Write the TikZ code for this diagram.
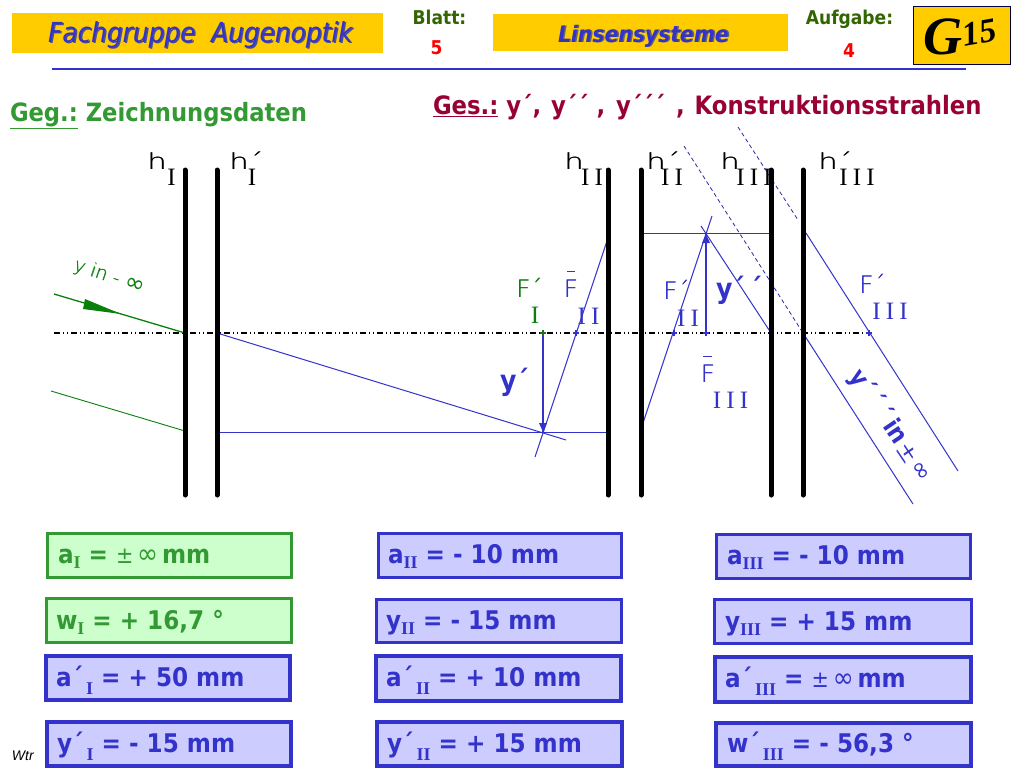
\documentclass[tikz,border=0pt]{standalone}
\usepackage{fontspec}
\setmainfont{DejaVu Sans}
\newfontfamily\tahf{DejaVu Sans Condensed}[BoldFont={DejaVu Sans Condensed Bold},ItalicFont={DejaVu Sans Condensed Oblique},BoldItalicFont={DejaVu Sans Condensed Bold Oblique}]
\newfontfamily\cadf{DejaVu Sans ExtraLight}
\newfontfamily\plainf{DejaVu Sans}
\newfontfamily\serf{Liberation Serif}
\newfontfamily\arif{Liberation Sans}
\definecolor{gold}{HTML}{FFCC00}
\definecolor{myblue}{HTML}{3333CC}
\definecolor{mygreen}{HTML}{339933}
\definecolor{raygreen}{HTML}{0B7F0B}
\definecolor{palegreen}{HTML}{CCFFCC}
\definecolor{paleblue}{HTML}{CCCCFF}
\definecolor{wine}{HTML}{990033}
\definecolor{leaf}{HTML}{336600}
\newcommand\fs[1]{\fontsize{#1}{#1}\selectfont}
\newcommand\subr[1]{\raisebox{-5pt}{\serf\bfseries\fs{18}#1}}
\newcommand\subp[1]{\raisebox{-8pt}{\serf\bfseries\fs{18}\,#1}}
\newcommand\pmi{{\mdseries\fs{23}±\,{\fs{28}∞}\,}}
\newcommand\romgap{\hspace{5.2pt}}
\newcommand\romi{{\serf\fs{25}I}}
\newcommand\romii{{\serf\fs{25}I\romgap I}}
\newcommand\romiii{{\serf\fs{25}I\romgap I\romgap I}}
\newcommand\heavy[1]{\rlap{#1}\hspace{0.4pt}#1}
\newcommand\cadh[1]{\scalebox{1.4}[1]{\cadf\fs{22}\heavy{#1}}}
\newcommand\cadF[1]{\scalebox{1.05}[1]{\cadf\fs{24}\heavy{#1}}}
\newcommand\plusat[1]{(#1)+(-3,0)--+(3,0) (#1)+(0,-3)--+(0,3)}
\tikzset{
  tx/.style={inner sep=0pt,outer sep=0pt,anchor=base west},
  txc/.style={inner sep=0pt,outer sep=0pt,anchor=base},
  lens/.style={line width=5pt,line cap=round,black},
  axisline/.style={line width=1.3pt,black,dash pattern=on 6pt off 3pt on 1pt off 3pt on 1pt off 3pt},
  ray/.style={line width=1pt,myblue},
  dashray/.style={line width=0.8pt,myblue!85!black,dash pattern=on 4pt off 3pt},
  greenbox/.style={draw=mygreen,fill=palegreen,line width=3pt},
  blueboxa/.style={draw=myblue,fill=paleblue,line width=3pt},
  blueboxb/.style={draw=myblue,fill=paleblue,line width=4pt},
  val/.style={tx,font=\tahf\bfseries\fs{25.7}},
}
\begin{document}
\begin{tikzpicture}[x=1pt,y=-1pt]
\useasboundingbox (0,0) rectangle (1024,768);
\fill[white] (0,0) rectangle (1024,768);
% header
\fill[gold] (12,13) rectangle (383,53);
\fill[gold] (493,14) rectangle (788,51);
\draw[fill=gold,draw=black!70!blue,line width=1pt] (913.5,6.5) rectangle (1010,64);
\draw[myblue,line width=1.2pt] (52,69) -- (966,69);
\node[tx,text=black!60!blue!70] (fa0) at (49.5,43.5) {\tahf\itshape\fs{27.6}Fachgruppe\ \ Augenoptik};
\node[tx,text=myblue] (fa) at (48,42) {\tahf\itshape\fs{27.6}Fachgruppe\ \ Augenoptik};
\node[tx,text=black!60] (li0) at (559.5,43) {\tahf\bfseries\itshape\fs{22.6}Linsensysteme};
\node[tx,text=myblue] (li) at (558,42) {\tahf\bfseries\itshape\fs{22.6}Linsensysteme};
\node[txc,text=leaf] (bl) at (439.5,25) {\tahf\bfseries\fs{19}Blatt:};
\node[txc,text=red] (bn) at (436.5,55) {\tahf\bfseries\fs{19}5};
\node[txc,text=leaf] (au) at (849.5,25) {\tahf\bfseries\fs{19}Aufgabe:};
\node[txc,text=red] (an) at (849,57) {\tahf\bfseries\fs{19}4};
\node[tx] (gg) at (923,55) {\serf\bfseries\itshape\fs{54}G};
\node[txc,rotate=10] (gn) at (981,44) {\serf\bfseries\itshape\fs{34}15};
% headings
\node[tx,text=mygreen] (geg) at (10,121) {\tahf\bfseries\fs{25.2}\underline{Geg.:} Zeichnungsdaten};
\node[tx,text=wine] (ges) at (433,114) {\tahf\bfseries\fs{25.3}\underline{Ges.:} y´, \hspace{2pt}y´´ , \hspace{3pt}y´´´\hspace{3pt} , \hspace{2pt}Konstruktionsstrahlen};
% coordinates
\coordinate (l1t) at (185,170); \coordinate (l1b) at (185,495);
\coordinate (l2t) at (217,170); \coordinate (l2b) at (217,495);
\coordinate (l3t) at (608,170); \coordinate (l3b) at (608,495);
\coordinate (l4t) at (641,170); \coordinate (l4b) at (641,495);
\coordinate (l5t) at (771,170); \coordinate (l5b) at (771,495);
\coordinate (l6t) at (803,170); \coordinate (l6b) at (803,495);
\coordinate (axa) at (54,333); \coordinate (axb) at (870,333);
\coordinate (g1a) at (54,294); \coordinate (g1b) at (185,333);
\coordinate (g2a) at (51,391); \coordinate (g2b) at (185,431);
\coordinate (r1a) at (217,333); \coordinate (r1b) at (566,440);
\coordinate (r2a) at (217,432.5); \coordinate (r2b) at (608,432.5);
\coordinate (r3a) at (535,457); \coordinate (r3b) at (609,235);
\coordinate (r4a) at (641,429); \coordinate (r4b) at (712,216);
\coordinate (r5a) at (641,233.5); \coordinate (r5b) at (772,233.5);
\coordinate (r6a) at (701,226); \coordinate (r6b) at (771,333);
\coordinate (d1a) at (684,146); \coordinate (d1b) at (803,333);
\coordinate (d2a) at (738,127); \coordinate (d2b) at (798,220);
\coordinate (r7a) at (803,333); \coordinate (r7b) at (913,504);
\coordinate (r8a) at (806,233); \coordinate (r8b) at (958,471);
\coordinate (y1a) at (543,333); \coordinate (y1b) at (543,432);
\coordinate (y2a) at (706,333); \coordinate (y2b) at (706,234);
\coordinate (f2) at (576,333); \coordinate (f3) at (674,333); \coordinate (f4) at (869,333);
% optical axis
\draw[axisline] (axa) -- (axb);
% rays
\draw[raygreen,line width=1.3pt] (g1a) -- (g1b);
\fill[raygreen] (121,314) -- (85,299) -- (83,309) -- cycle;
\draw[raygreen,line width=0.9pt] (g2a) -- (g2b);
\draw[ray] (r1a) -- (r1b);
\draw[ray] (r2a) -- (r2b);
\draw[ray] (r3a) -- (r3b);
\draw[ray] (r4a) -- (r4b);
\draw[ray] (r5a) -- (r5b);
\draw[ray] (r6a) -- (r6b);
\draw[ray] (r7a) -- (r7b);
\draw[ray] (r8a) -- (r8b);
\draw[dashray] (d1a) -- (d1b);
\draw[dashray] (d2a) -- (d2b);
% lenses
\draw[lens] (l1t) -- (l1b);
\draw[lens] (l2t) -- (l2b);
\draw[lens] (l3t) -- (l3b);
\draw[lens] (l4t) -- (l4b);
\draw[lens] (l5t) -- (l5b);
\draw[lens] (l6t) -- (l6b);
% image arrows
\draw[myblue,line width=1.2pt] (y1a) -- (y1b);
\fill[myblue] (y1b) -- ++(-4,-9) -- ++(8,0) -- cycle;
\draw[myblue,line width=1.2pt] (y2a) -- (y2b);
\fill[myblue] (y2b) -- ++(-4,9) -- ++(8,0) -- cycle;
\draw[mygreen!70!black,line width=1.2pt] \plusat{y1a};
\draw[myblue,line width=1.2pt] \plusat{f2} \plusat{f3} \plusat{y2a} \plusat{f4};
% principal plane labels
\node[tx] (h1) at (147,169) {\cadh{h}};
\node[txc] (h1s) at (171.5,185) {\romi};
\node[tx] (h2) at (229,169) {\cadh{h´}};
\node[txc] (h2s) at (252,185) {\romi};
\node[tx] (h3) at (564,169) {\cadh{h}};
\node[txc] (h3s) at (592,185) {\romii};
\node[tx] (h4) at (646,169) {\cadh{h´}};
\node[txc] (h4s) at (672,185) {\romii};
\node[tx] (h5) at (720,169) {\cadh{h}};
\node[txc] (h5s) at (754,185) {\romiii};
\node[tx] (h6) at (818,169) {\cadh{h´}};
\node[txc] (h6s) at (857,185) {\romiii};
% focal labels
\node[tx,text=raygreen] (fp1) at (516,297) {\cadF{F´}};
\node[txc,text=raygreen] (fp1s) at (535,323) {\romi};
\node[tx,text=myblue] (fb2) at (563.5,297) {\cadF{F}};
\draw[myblue,line width=1pt] (567,271) -- (575,271);
\node[txc,text=myblue] (fb2s) at (588.5,324) {\romii};
\node[tx,text=myblue] (fp3) at (663,299) {\cadF{F´}};
\node[txc,text=myblue] (fp3s) at (688,326) {\romii};
\node[tx,text=myblue] (fb4) at (700.5,382) {\cadF{F}};
\draw[myblue,line width=1pt] (703,356) -- (712,356);
\node[txc,text=myblue] (fb4s) at (730.5,408) {\romiii};
\node[tx,text=myblue] (fp5) at (859,293) {\cadF{F´}};
\node[txc,text=myblue] (fp5s) at (890,319) {\romiii};
% image labels
\node[tx,text=myblue] (yl1) at (500,390) {\tahf\bfseries\fs{28}y´};
\node[tx,text=myblue] (yl2) at (716,298) {\tahf\bfseries\fs{28}y´\,´};
\node[anchor=center,inner sep=0pt,text=myblue,rotate=-56] (yl3) at (878,407) {\tahf\bfseries\fs{25}y´\,´\,´\,in};
\node[anchor=center,inner sep=0pt,text=myblue,rotate=-56] (yl4) at (907,453) {\cadf\fs{24}\heavy{±}};
\node[anchor=center,inner sep=0pt,text=myblue,rotate=-56] (yl5) at (920,472) {\plainf\fs{24}∞};
\node[anchor=center,inner sep=0pt,text=raygreen,rotate=-19] (yl0) at (97,273) {\cadf\fs{19}\heavy{y in -}};
\node[anchor=center,inner sep=0pt,text=raygreen,rotate=-19] (yl6) at (135,285) {\plainf\fs{24}∞};
% boxes
\draw[greenbox] (47.5,533.5) rectangle (291,577);
\draw[greenbox] (46,598.5) rectangle (291,642.5);
\draw[blueboxb] (46,656) rectangle (290,700);
\draw[blueboxb] (47,721.5) rectangle (291,766);
\draw[blueboxa] (378.5,533.5) rectangle (621.5,577.5);
\draw[blueboxa] (376.5,599.5) rectangle (621.5,642.5);
\draw[blueboxb] (376,656) rectangle (621,701);
\draw[blueboxb] (377,722) rectangle (622,766);
\draw[blueboxa] (716.5,534.5) rectangle (970.5,578.5);
\draw[blueboxa] (714.5,599.5) rectangle (971.5,643.5);
\draw[blueboxb] (715,657) rectangle (971,702);
\draw[blueboxb] (716,723) rectangle (971,766);
% box texts
\node[val,text=mygreen] (t1) at (58,563) {a\subr{I} = \pmi mm};
\node[val,text=mygreen] (t2) at (56,629) {w\subr{I} = + 16,7 °};
\node[val,text=myblue] (t3) at (56,686) {a´\subp{I} = + 50 mm};
\node[val,text=myblue] (t4) at (57,752) {y´\subp{I} = - 15 mm};
\node[val,text=myblue] (t5) at (388,563) {a\subr{II} = - 10 mm};
\node[val,text=myblue] (t6) at (386,629) {y\subr{II} = - 15 mm};
\node[val,text=myblue] (t7) at (386,686) {a´\subp{II} = + 10 mm};
\node[val,text=myblue] (t8) at (387,752) {y´\subp{II} = + 15 mm};
\node[val,text=myblue] (t9) at (727,564) {a\subr{III} = - 10 mm};
\node[val,text=myblue] (t10) at (725,630) {y\subr{III} = + 15 mm};
\node[val,text=myblue] (t11) at (725,687) {a´\subp{III} = \pmi mm};
\node[val,text=myblue] (t12) at (727,752) {w´\subp{III} = - 56,3 °};
\node[tx] (wtr) at (12,760) {\arif\itshape\fs{14}Wtr};
\end{tikzpicture}
\end{document}
